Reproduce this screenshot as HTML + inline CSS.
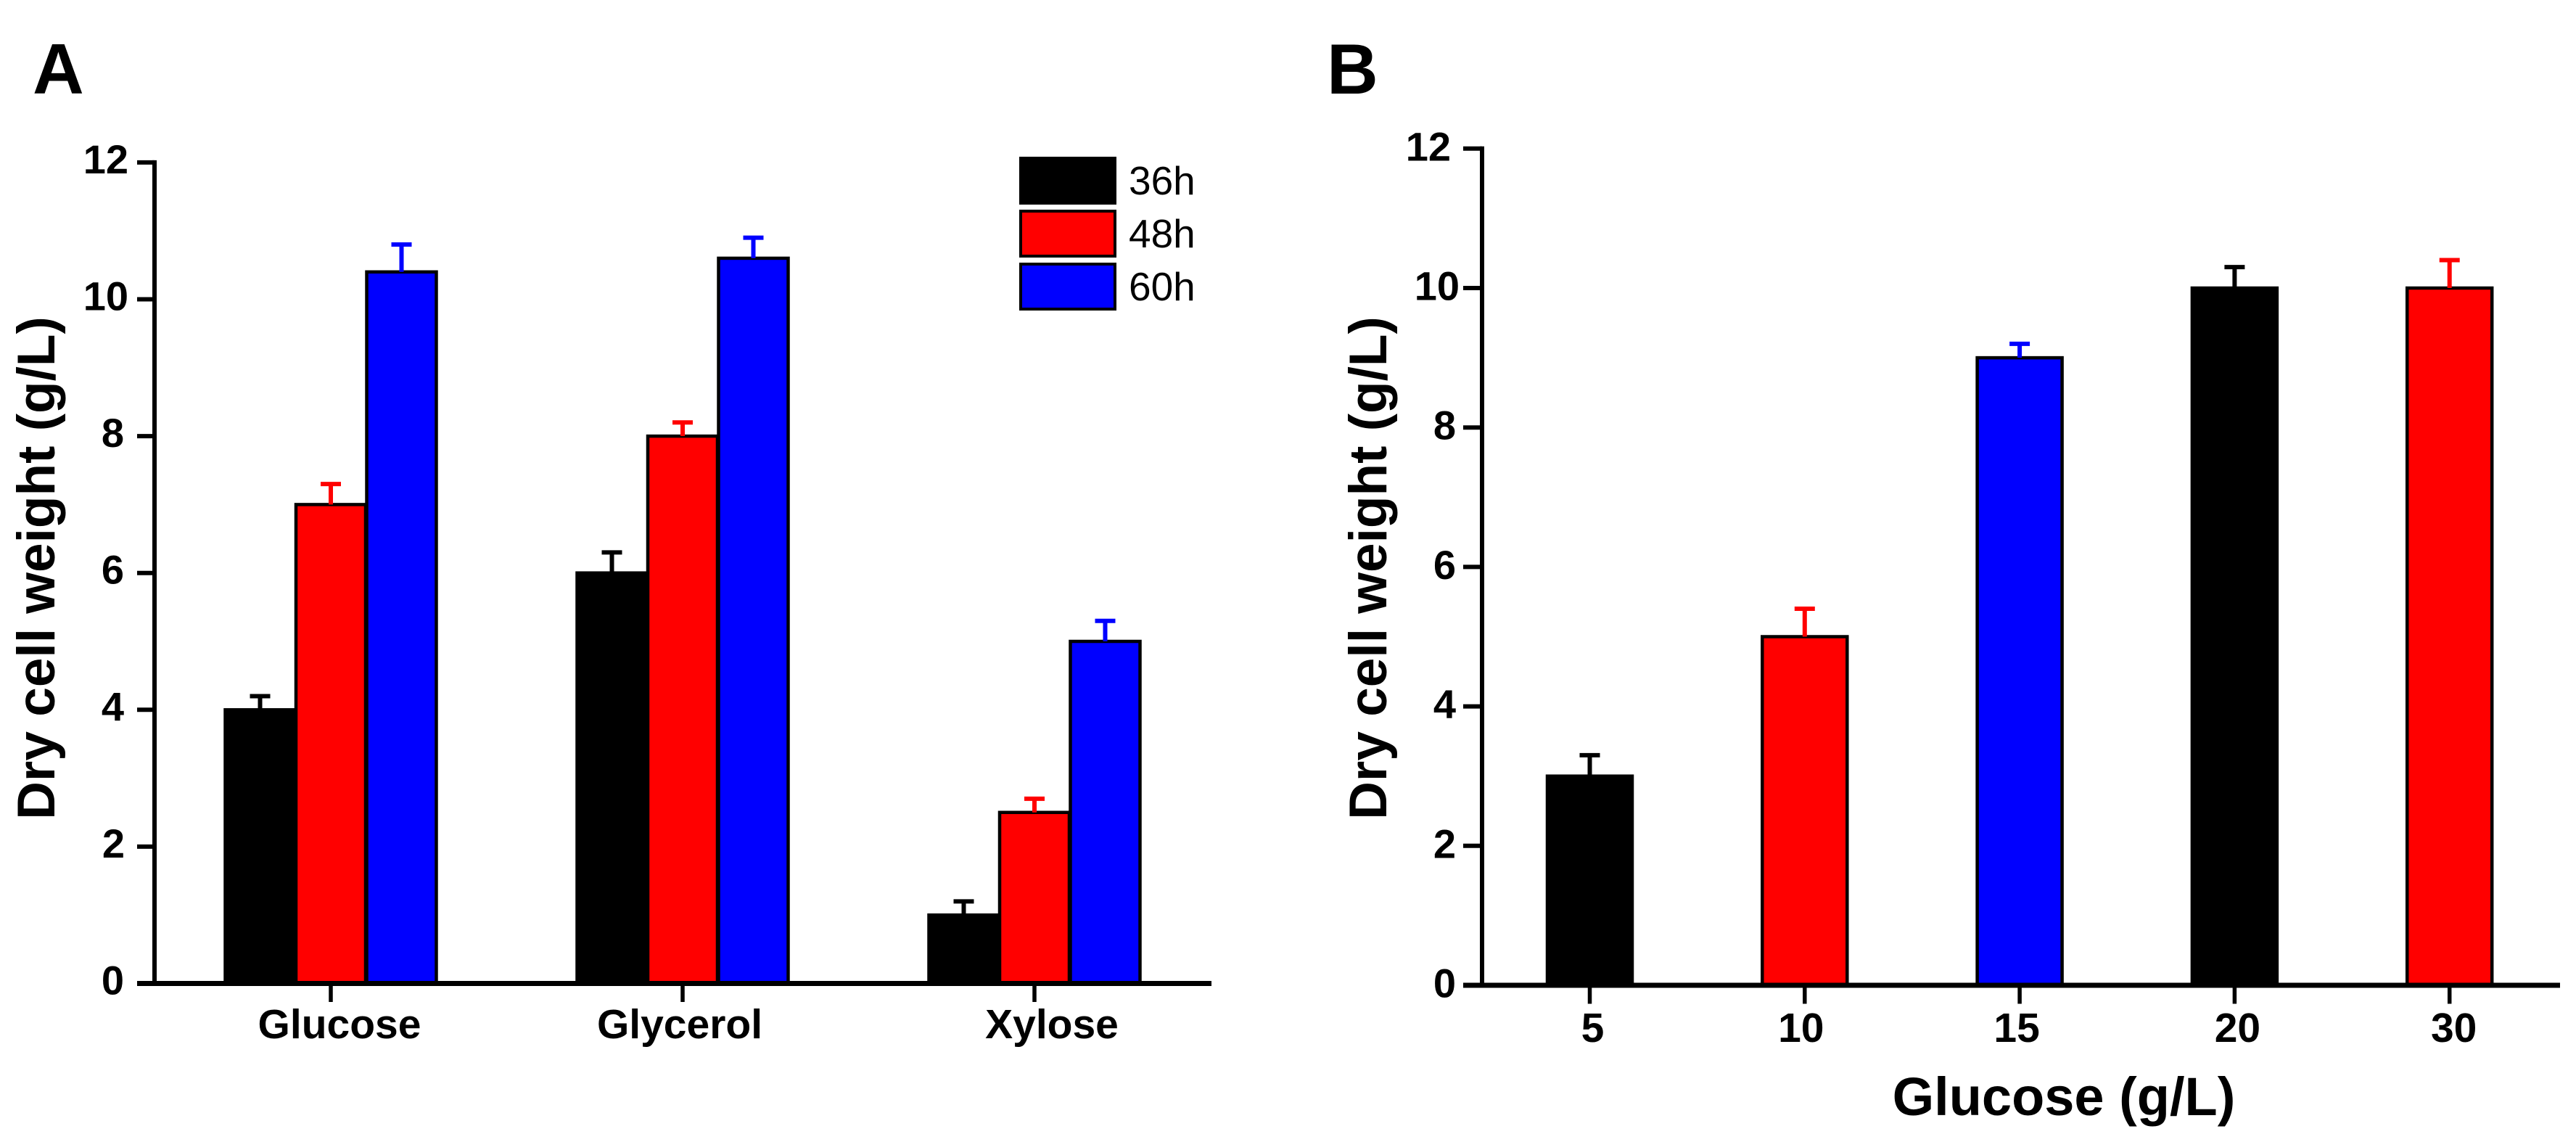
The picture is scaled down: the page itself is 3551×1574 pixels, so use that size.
<!DOCTYPE html>
<html>
<head>
<meta charset="utf-8">
<title>Dry cell weight charts</title>
<style>
html,body{margin:0;padding:0;background:#fff;}
svg{display:block;}
text{font-family:"Liberation Sans",sans-serif;fill:#000;}
.bold{font-weight:bold;}
</style>
</head>
<body>
<svg id="figure" xmlns="http://www.w3.org/2000/svg" width="3551" height="1574" viewBox="0 0 3551 1574">
  <rect x="0" y="0" width="3551" height="1574" fill="#fff"/>
  <text class="bold" x="45" y="129" font-size="98">A</text>
  <text class="bold" x="1829" y="129" font-size="98">B</text>
  <text class="bold" x="75" y="783" font-size="73" text-anchor="middle" transform="rotate(-90 75 783)">Dry cell weight (g/L)</text>
  <text class="bold" x="1911" y="783" font-size="73" text-anchor="middle" transform="rotate(-90 1911 783)">Dry cell weight (g/L)</text>
  <text class="bold" x="2845" y="1537" font-size="74" text-anchor="middle">Glucose (g/L)</text>
  <g id="panel-a"></g>
  <g id="panel-b"></g>
  <g id="legend"></g>
</svg>
<script>
// Panel A data
const carbonSources = ["Glucose", "Glycerol", "Xylose"];
const timePoints = ["36h", "48h", "60h"];
const weight36h = [4, 6, 1];
const weight48h = [7, 8, 2.5];
const weight60h = [10.4, 10.6, 5];
const error36h = [0.2, 0.3, 0.2];
const error48h = [0.3, 0.2, 0.2];
const error60h = [0.4, 0.3, 0.3];
// Panel B data
const glucoseLevels = ["5", "10", "15", "20", "30"];
const glucoseWeight = [3, 5, 9, 10, 10];
const glucoseError = [0.3, 0.4, 0.2, 0.3, 0.4];
// Shared axis ticks
const yTicks = [0, 2, 4, 6, 8, 10, 12];

const NS = "http://www.w3.org/2000/svg";
const seriesColors = ["#000000", "#ff0000", "#0000ff"];

function mk(tag, attrs, parent, content) {
  const el = document.createElementNS(NS, tag);
  for (const k in attrs) el.setAttribute(k, attrs[k]);
  if (content !== undefined) el.textContent = content;
  parent.appendChild(el);
  return el;
}

// Axis functions
function yA(v) { return 1355.5 - v * 94.3; }
function yB(v) { return 1358 - v * 96.1; }
function xA(i) { return 456 + i * 485; }
function xB(i) { return 2191.5 + i * 296.3; }

function slug(s) { return String(s).toLowerCase().replace(/[^a-z0-9]+/g, "-"); }

function drawBar(parent, cx, halfW, v, err, color, y, y0, name) {
  const rect = mk("rect", {
    x: cx - halfW, y: y(v), width: halfW * 2, height: y0 - y(v),
    fill: color, stroke: "#000", "stroke-width": 4.5
  }, parent);
  
  
  const stem = mk("line", {
    x1: cx, x2: cx, y1: y(v), y2: y(v + err), stroke: color, "stroke-width": 6
  }, parent);
  
  
  const cap = mk("line", {
    x1: cx - 14, x2: cx + 14, y1: y(v + err), y2: y(v + err), stroke: color, "stroke-width": 6
  }, parent);
  
  
}

function drawAxes(parent, prefix, axisX, tickLeft, axisEnd, y, labelRight, labelDrop, labelNudge) {
  const baseY = y(0);
  const yLine = mk("line", {
    x1: axisX, x2: axisX, y1: y(12) - 3, y2: baseY, stroke: "#000", "stroke-width": 6
  }, parent);
  
  
  const xLine = mk("line", {
    x1: tickLeft, x2: axisEnd, y1: baseY, y2: baseY, stroke: "#000", "stroke-width": 7
  }, parent);
  
  
  yTicks.forEach(function (t) {
    const tick = mk("line", {
      x1: tickLeft, x2: axisX, y1: y(t), y2: y(t), stroke: "#000", "stroke-width": 6
    }, parent);
    
    
    const label = mk("text", {
      x: labelRight + (labelNudge[t] || 0), y: y(t) + labelDrop, "font-size": 56, "font-weight": "bold", "text-anchor": "end"
    }, parent, String(t));
    
    
  });
}

function drawXTick(parent, prefix, key, x, baseY, tickEnd, labelX, labelY, text) {
  const tick = mk("line", {
    x1: x, x2: x, y1: baseY, y2: tickEnd, stroke: "#000", "stroke-width": 5.5
  }, parent);
  
  
  const label = mk("text", {
    x: labelX, y: labelY, "font-size": 57, "font-weight": "bold", "text-anchor": "middle"
  }, parent, text);
  
  
}

// Panel A
const gA = document.getElementById("panel-a");
const seriesValuesA = [weight36h, weight48h, weight60h];
const seriesErrorsA = [error36h, error48h, error60h];
carbonSources.forEach(function (cat, i) {
  timePoints.forEach(function (tp, s) {
    const cx = xA(i) + (s - 1) * 97.5;
    drawBar(gA, cx, 48, seriesValuesA[s][i], seriesErrorsA[s][i], seriesColors[s], yA, yA(0), slug(cat) + '-' + tp);
  });
});
drawAxes(gA, 'panel-a', 213, 189, 1670, yA, 177, 15, { 0: -6, 2: -5, 4: -6, 6: -6, 8: -6 });
const nudgeA = { Glucose: 12, Glycerol: -4, Xylose: 24 };
carbonSources.forEach(function (cat, i) {
  drawXTick(gA, 'panel-a', slug(cat), xA(i), yA(0), 1381, xA(i) + nudgeA[cat], 1431, cat);
});

// Panel B
const gB = document.getElementById("panel-b");
glucoseLevels.forEach(function (lvl, i) {
  drawBar(gB, xB(i), 58.5, glucoseWeight[i], glucoseError[i], seriesColors[i % 3], yB, yB(0), 'glucose-' + lvl);
});
drawAxes(gB, 'panel-b', 2043, 2017, 3529, yB, 2007, 16.5, { 10: 5, 12: -7 });
const nudgeB = { "5": 4, "10": -5, "15": -4, "20": 4, "30": 6 };
glucoseLevels.forEach(function (lvl, i) {
  drawXTick(gB, 'panel-b', lvl, xB(i), yB(0), 1383.5, xB(i) + nudgeB[lvl], 1436, lvl);
});

// Legend
const gL = document.getElementById("legend");
timePoints.forEach(function (tp, s) {
  const top = 218 + s * 73;
  const swatch = mk("rect", {
    x: 1407, y: top, width: 130, height: 62, fill: seriesColors[s], stroke: "#000", "stroke-width": 4
  }, gL);
  
  
  const label = mk("text", {
    x: 1556, y: 268 + s * 73, "font-size": 55
  }, gL, tp);
  
  
});
</script>
</body>
</html>
